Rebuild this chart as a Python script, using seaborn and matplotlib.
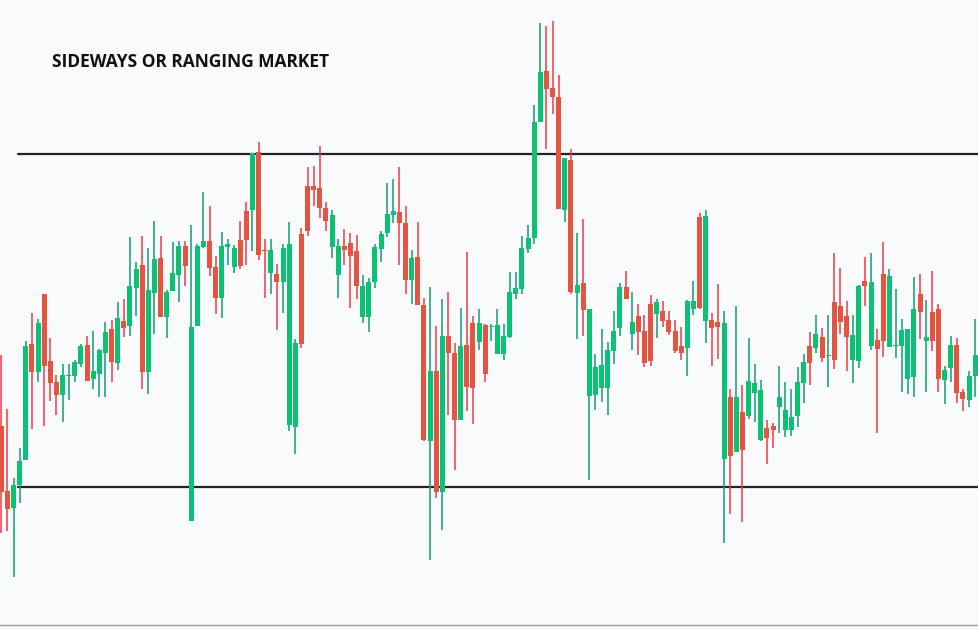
import matplotlib.pyplot as plt
import numpy as np
import seaborn as sns

sns.set_theme(style="white")
plt.rcParams['font.family'] = ['Open Sans', 'DejaVu Sans']

# candle values, in screen units (smaller = higher price)
body_top = [426, 491, 485, 461, 346, 344, 323, 294, 361, 382, 375, 375, 362, 346, 345, 371, 350, 332, 329, 318,
            321, 286, 269, 265, 290, 259, 258, 292, 273, 246, 246, 327, 246, 241, 241, 267, 246, 244, 248, 240,
            211, 153, 152, 250, 250, 274, 248, 244, 343, 234, 186, 186, 188, 208, 215, 246, 246, 243, 251, 286,
            282, 247, 234, 214, 211, 212, 223, 258, 257, 305, 371, 371, 336, 336, 353, 346, 345, 323, 323, 325,
            326, 325, 336, 292, 288, 248, 238, 122, 72, 71, 88, 97, 158, 160, 285, 283, 309, 367, 365, 350,
            331, 287, 287, 322, 316, 331, 304, 302, 311, 320, 331, 346, 301, 301, 217, 216, 320, 322, 323, 397,
            397, 412, 381, 383, 390, 428, 426, 397, 410, 417, 382, 362, 346, 334, 337, 355, 302, 306, 316, 335,
            286, 281, 282, 340, 274, 276, 345, 330, 329, 309, 294, 337, 312, 309, 370, 345, 345, 392, 376, 355]
body_bot = [492, 509, 508, 485, 460, 372, 372, 366, 383, 395, 395, 376, 376, 364, 381, 379, 374, 353, 362, 363,
            328, 326, 288, 372, 372, 293, 317, 317, 291, 275, 266, 521, 326, 247, 268, 298, 298, 247, 267, 266,
            240, 210, 255, 251, 273, 282, 282, 425, 427, 344, 231, 190, 208, 221, 247, 275, 250, 256, 286, 317,
            317, 282, 249, 233, 215, 223, 280, 280, 305, 440, 441, 492, 492, 353, 420, 420, 387, 388, 342, 374,
            327, 354, 354, 337, 294, 289, 249, 238, 122, 89, 97, 209, 210, 292, 293, 310, 396, 395, 388, 388,
            351, 328, 299, 334, 332, 363, 361, 314, 321, 332, 351, 353, 348, 309, 308, 321, 328, 327, 459, 456,
            452, 450, 416, 393, 440, 438, 430, 407, 430, 430, 416, 383, 363, 348, 358, 356, 360, 322, 337, 360,
            361, 286, 346, 349, 341, 347, 346, 346, 379, 377, 312, 341, 341, 379, 380, 368, 393, 399, 400, 376]
wick_top = [355, 409, 478, 448, 341, 313, 319, 294, 338, 375, 364, 364, 360, 344, 336, 331, 349, 322, 320, 302,
            299, 237, 262, 236, 248, 221, 236, 290, 242, 241, 241, 225, 244, 192, 206, 256, 232, 239, 245, 221,
            202, 153, 142, 239, 239, 264, 244, 222, 339, 228, 167, 166, 146, 202, 210, 239, 229, 233, 235, 275,
            278, 244, 231, 183, 179, 167, 206, 250, 222, 298, 287, 326, 299, 292, 343, 308, 252, 316, 309, 324,
            324, 309, 324, 272, 272, 236, 225, 105, 23, 26, 21, 75, 158, 149, 233, 219, 309, 354, 329, 342,
            311, 283, 271, 292, 304, 315, 295, 299, 301, 311, 320, 327, 300, 281, 213, 210, 313, 284, 311, 389,
            306, 385, 338, 364, 380, 420, 423, 366, 382, 389, 367, 354, 332, 315, 328, 315, 253, 268, 301, 315,
            285, 257, 253, 329, 242, 269, 289, 319, 329, 277, 274, 300, 271, 304, 366, 336, 338, 389, 371, 319]
wick_bot = [533, 531, 577, 503, 460, 429, 382, 426, 401, 415, 422, 400, 382, 367, 381, 389, 397, 397, 382, 370,
            337, 336, 316, 389, 394, 334, 317, 338, 291, 302, 286, 521, 326, 248, 276, 314, 318, 265, 273, 269,
            265, 251, 260, 298, 294, 330, 313, 431, 454, 348, 236, 206, 218, 231, 258, 298, 265, 308, 299, 323,
            332, 288, 262, 237, 223, 265, 294, 304, 305, 441, 560, 498, 530, 415, 470, 420, 411, 424, 350, 382,
            341, 354, 360, 338, 299, 294, 253, 244, 122, 149, 114, 209, 222, 294, 339, 336, 480, 410, 402, 415,
            364, 336, 299, 350, 355, 367, 366, 338, 327, 335, 353, 360, 376, 315, 309, 343, 366, 359, 543, 514,
            452, 522, 419, 422, 441, 464, 448, 433, 437, 436, 427, 403, 385, 353, 362, 387, 369, 334, 371, 383,
            368, 306, 350, 433, 357, 347, 358, 392, 394, 397, 339, 392, 351, 392, 404, 382, 403, 411, 407, 397]
bullish = "rrgggrgrrrggggrgggrgrggrggrgggrggg" \
          "rrgg" "grr" "g" "rrg" "rgg" "gr" "rrr" "rg" "grr" "rgg" "ggg" "grrgrr" \
          "gr" "grrgrr" "g" "rgg" "ggggg" \
          "ggrrrgrgrggg" "gggrgrrrgrrr" "rggrgrrg" "rgrgggrrgggggrgrgrrrggrgrrgggggrgrrgg"

title = "SIDEWAYS OR RANGING MARKET"
levels = [154, 487]

green, red = "#0BC174", "#E35541"
wick_green, wick_red = "#129C73", "#EF3A45"

n = len(body_top)
x = np.arange(n)
up = np.array([c == "g" for c in bullish[:n]])

fig = plt.figure(figsize=(9.79, 6.3), dpi=100)
fig.patch.set_facecolor("#F8FAFC")
ax = fig.add_axes([0, 0, 1, 1])
ax.set_facecolor("#F8FAFC")

for lv in levels:
    ax.axhline(lv, xmin=18 / 979, xmax=1, color="#222222", linewidth=1.6, zorder=1)
ax.axhline(625, color="#9AA0A6", linewidth=1.0, zorder=1)

top = np.array(body_top, dtype=float)
bot = np.array(body_bot, dtype=float)
ax.vlines(x, wick_top, wick_bot, colors=np.where(up, wick_green, wick_red), linewidth=1.1, zorder=2)
ax.bar(x, np.maximum(bot - top, 1.0), bottom=top, width=0.82,
       color=np.where(up, green, red), linewidth=0, zorder=3)

ax.text(52 / 979, 1 - 62 / 630, title, transform=ax.transAxes, fontsize=12.5,
        fontweight="bold", color="#111111", va="center", ha="left")

ax.set_xlim(-0.212, -0.212 + 979 / 6.125)
ax.set_ylim(630, 0)
ax.axis("off")

fig.savefig("out.png", dpi=100, facecolor=fig.get_facecolor())
